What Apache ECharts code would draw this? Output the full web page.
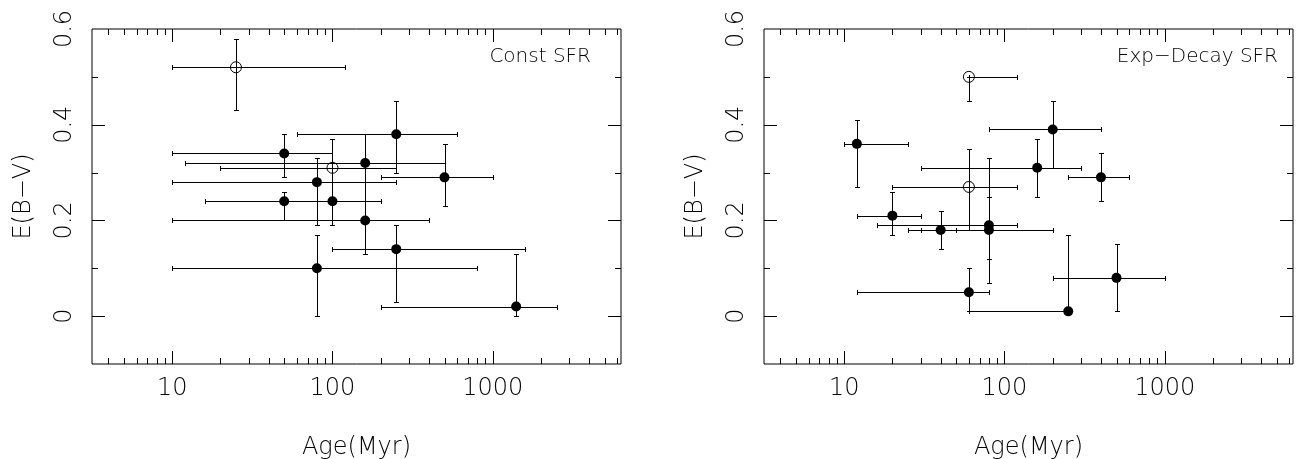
<!DOCTYPE html>
<html>
<head>
<meta charset="utf-8">
<script src="https://cdn.jsdelivr.net/npm/echarts@6/dist/echarts.min.js"></script>
<style>html,body{margin:0;padding:0;background:#fff;}#c{width:1297px;height:459px;}</style>
</head>
<body>
<div id="c"></div>
<script>
// ---- Data: Constant SFR panel ----
const ageC   = [25, 50, 250, 160, 100, 80, 50, 100, 160, 80, 250, 1400, 500];
const ebvC   = [0.52, 0.34, 0.38, 0.32, 0.31, 0.28, 0.24, 0.24, 0.20, 0.10, 0.14, 0.02, 0.29];
const ageLoC = [10, 10, 60, 12, 20, 10, 16, 50, 10, 10, 100, 200, 200];
const ageHiC = [120, 100, 600, 500, 250, 250, 100, 200, 400, 800, 1600, 2500, 1000];
const ebvLoC = [0.43, 0.29, 0.30, 0.20, 0.24, 0.19, 0.20, 0.19, 0.13, 0.00, 0.03, 0.00, 0.23];
const ebvHiC = [0.58, 0.38, 0.45, 0.38, 0.37, 0.33, 0.26, 0.31, 0.32, 0.17, 0.19, 0.13, 0.36];
const openC  = [1, 0, 0, 0, 1, 0, 0, 0, 0, 0, 0, 0, 0];

// ---- Data: Exponentially decaying SFR panel ----
const ageE   = [60, 12, 60, 160, 200, 400, 20, 40, 80, 80, 60, 250, 500];
const ebvE   = [0.50, 0.36, 0.27, 0.31, 0.39, 0.29, 0.21, 0.18, 0.19, 0.18, 0.05, 0.01, 0.08];
const ageLoE = [60, 10, 20, 30, 80, 250, 12, 30, 16, 25, 12, 60, 200];
const ageHiE = [120, 25, 120, 300, 400, 600, 30, 50, 120, 200, 80, 250, 1000];
const ebvLoE = [0.45, 0.27, 0.18, 0.25, 0.31, 0.24, 0.17, 0.14, 0.07, 0.12, 0.01, 0.01, 0.01];
const ebvHiE = [0.50, 0.41, 0.35, 0.37, 0.45, 0.34, 0.26, 0.22, 0.33, 0.25, 0.10, 0.17, 0.15];
const openE  = [1, 0, 1, 0, 0, 0, 0, 0, 0, 0, 0, 0, 0];

// ---- Axis ticks / labels ----
const xLabels = [10, 100, 1000];
const xMajorTicks = [10, 100, 1000];
const xMinorTicks = [4,5,6,7,8,9, 20,30,40,50,60,70,80,90, 200,300,400,500,600,700,800,900, 2000,3000,4000,5000,6000];
const yLabels = [0, 0.2, 0.4, 0.6];
const yMajorTicks = [0, 0.2, 0.4];
const yMinorTicks = [0.1, 0.3, 0.5];
const panelLabels = ['Const SFR', 'Exp\u2212Decay SFR'];

const X_MIN = Math.pow(10, 0.5), X_MAX = Math.pow(10, 3.8);
const Y_MIN = -0.1, Y_MAX = 0.6;
const MAJ = 13, MIN = 6;
const FONT = 'DejaVu Sans';

function crisp(v){ return Math.round(v) + 0.5; }
const lineStyle = {stroke:'#000', lineWidth:1};

function xTickItem(params, api){
  const v = api.value(0), len = api.value(2);
  const b = api.coord([v, Y_MIN]), t = api.coord([v, Y_MAX]);
  const x = crisp(b[0]);
  return {type:'group', children:[
    {type:'line', shape:{x1:x, y1:b[1], x2:x, y2:b[1]-len}, style:lineStyle},
    {type:'line', shape:{x1:x, y1:t[1], x2:x, y2:t[1]+len}, style:lineStyle}
  ]};
}
function yTickItem(params, api){
  const v = api.value(1), len = api.value(2);
  const l = api.coord([X_MIN, v]), r = api.coord([X_MAX, v]);
  const y = crisp(l[1]);
  return {type:'group', children:[
    {type:'line', shape:{x1:l[0], y1:y, x2:l[0]+len, y2:y}, style:lineStyle},
    {type:'line', shape:{x1:r[0], y1:y, x2:r[0]-len, y2:y}, style:lineStyle}
  ]};
}
function errItem(params, api){
  const x = api.value(0), y = api.value(1);
  const pl = api.coord([api.value(2), y]), ph = api.coord([api.value(3), y]);
  const pb = api.coord([x, api.value(4)]), pt = api.coord([x, api.value(5)]);
  const c = 2.5;
  const hy = crisp(pl[1]), vx = crisp(pb[0]);
  const xl = crisp(pl[0]), xh = crisp(ph[0]);
  const yb = crisp(pb[1]), yt = crisp(pt[1]);
  return {type:'group', children:[
    {type:'line', shape:{x1:xl, y1:hy, x2:xh, y2:hy}, style:lineStyle},
    {type:'line', shape:{x1:xl, y1:hy-c, x2:xl, y2:hy+c}, style:lineStyle},
    {type:'line', shape:{x1:xh, y1:hy-c, x2:xh, y2:hy+c}, style:lineStyle},
    {type:'line', shape:{x1:vx, y1:yb, x2:vx, y2:yt}, style:lineStyle},
    {type:'line', shape:{x1:vx-c, y1:yb, x2:vx+c, y2:yb}, style:lineStyle},
    {type:'line', shape:{x1:vx-c, y1:yt, x2:vx+c, y2:yt}, style:lineStyle}
  ]};
}

const panels = [
  {age:ageC, ebv:ebvC, alo:ageLoC, ahi:ageHiC, elo:ebvLoC, ehi:ebvHiC, open:openC},
  {age:ageE, ebv:ebvE, alo:ageLoE, ahi:ageHiE, elo:ebvLoE, ehi:ebvHiE, open:openE}
];

const grids = [
  {left:92, top:29, width:529, height:335, show:true, borderColor:'#000', borderWidth:1, backgroundColor:'transparent', containLabel:false, outerBoundsMode:'none'},
  {left:764, top:29, width:529, height:335, show:true, borderColor:'#000', borderWidth:1, backgroundColor:'transparent', containLabel:false, outerBoundsMode:'none'}
];
const xAxes = [], yAxes = [], series = [];
panels.forEach((p, gi) => {
  xAxes.push({
    type:'log', logBase:10, gridIndex:gi, min:X_MIN, max:X_MAX,
    name:'Age(Myr)', nameLocation:'middle', nameGap:72,
    nameTextStyle:{fontFamily:FONT, fontWeight:200, fontSize:24, color:'#000'},
    axisLine:{show:false}, axisTick:{show:false}, splitLine:{show:false}, minorTick:{show:false},
    axisLabel:{customValues:xLabels, margin:13, fontFamily:FONT, fontWeight:200, fontSize:24, color:'#000',
      formatter:(v)=>String(Math.round(v))}
  });
  yAxes.push({
    type:'value', gridIndex:gi, min:Y_MIN, max:Y_MAX,
    name:'E(B\u2212V)', nameLocation:'middle', nameGap:56, nameRotate:90,
    nameTextStyle:{fontFamily:FONT, fontWeight:200, fontSize:24, color:'#000'},
    axisLine:{show:false}, axisTick:{show:false}, splitLine:{show:false},
    axisLabel:{customValues:yLabels, rotate:90, margin:15, fontFamily:FONT, fontWeight:200, fontSize:24, color:'#000',
      hideOverlap:false, formatter:(v)=>String(Math.round(v*10)/10)}
  });
  const tickX = xMajorTicks.map(v=>[v, Y_MIN, MAJ]).concat(xMinorTicks.map(v=>[v, Y_MIN, MIN]));
  const tickY = yMajorTicks.map(v=>[X_MIN, v, MAJ]).concat(yMinorTicks.map(v=>[X_MIN, v, MIN]));
  series.push({type:'custom', xAxisIndex:gi, yAxisIndex:gi, data:tickX, encode:{x:0, y:1}, renderItem:xTickItem, silent:true, z:5, clip:false});
  series.push({type:'custom', xAxisIndex:gi, yAxisIndex:gi, data:tickY, encode:{x:0, y:1}, renderItem:yTickItem, silent:true, z:5, clip:false});
  const err = p.age.map((a,i)=>[a, p.ebv[i], p.alo[i], p.ahi[i], p.elo[i], p.ehi[i]]);
  series.push({type:'custom', xAxisIndex:gi, yAxisIndex:gi, data:err, encode:{x:0, y:1}, renderItem:errItem, silent:true, z:3});
  const filled = [], open = [];
  p.age.forEach((a,i)=>{ (p.open[i] ? open : filled).push([a, p.ebv[i]]); });
  series.push({type:'scatter', xAxisIndex:gi, yAxisIndex:gi, data:filled, symbol:'circle', symbolSize:10,
    itemStyle:{color:'#000', opacity:1}, z:4, silent:true});
  series.push({type:'scatter', xAxisIndex:gi, yAxisIndex:gi, data:open, symbol:'circle', symbolSize:11,
    itemStyle:{color:'rgba(0,0,0,0)', borderColor:'#000', borderWidth:1, opacity:1}, z:4, silent:true});
});

const chart = echarts.init(document.getElementById('c'), null, {renderer:'canvas'});
chart.setOption({
  animation:false,
  backgroundColor:'#fff',
  grid:grids, xAxis:xAxes, yAxis:yAxes, series:series,
  graphic:[
    {type:'text', x:591, y:57, style:{text:panelLabels[0], align:'right', verticalAlign:'middle', fontFamily:FONT, fontWeight:200, fontSize:20, fill:'#000'}},
    {type:'text', x:1278, y:57, style:{text:panelLabels[1], align:'right', verticalAlign:'middle', fontFamily:FONT, fontWeight:200, fontSize:20, fill:'#000'}}
  ]
});
</script>
</body>
</html>
